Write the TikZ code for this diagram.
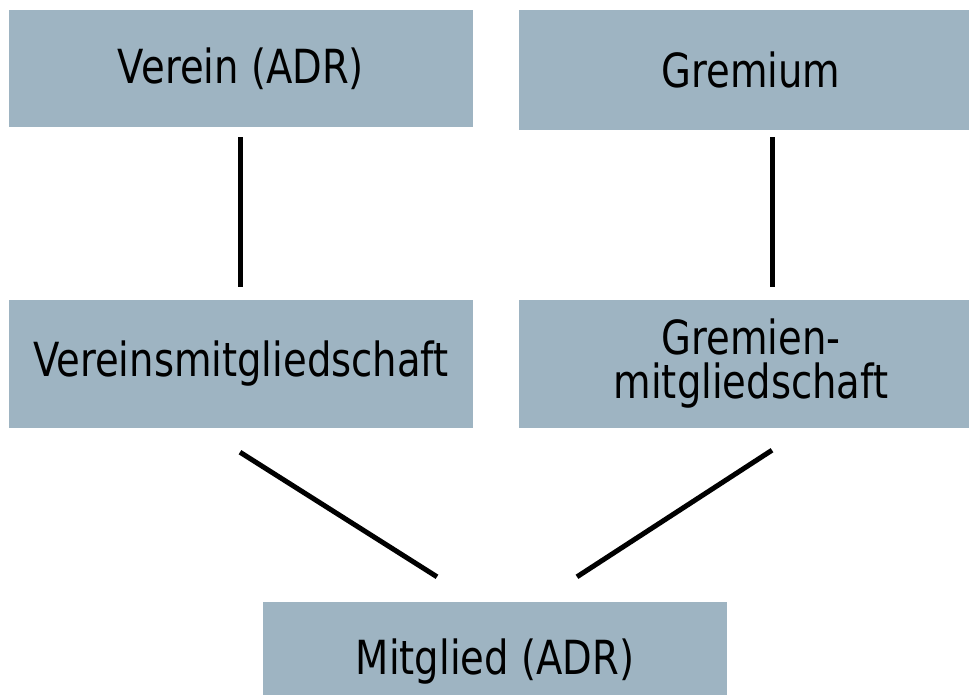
\documentclass[tikz,border=0pt]{standalone}
\usepackage{fontspec}
\setmainfont{DejaVu Sans}[FakeStretch=0.82]
\definecolor{boxfill}{RGB}{158,180,194}
\begin{document}
\begin{tikzpicture}[x=1pt,y=-1pt,
  box/.style={fill=boxfill,draw=none,inner sep=0pt,minimum width=464pt,font=\fontsize{47}{44}\selectfont,align=center},
  conn/.style={line width=5pt,black}]
\useasboundingbox (0,0) rectangle (969,695);
\begin{scope}
\clip (0,0) rectangle (969,695);
\node[box,minimum height=117pt] (verein) at (241,68.5) {Verein (ADR)};
\node[box,minimum height=120pt] (gremium) at (751,70) {Gremium};
\node[box,minimum height=128pt] (vm) at (241,364) {Vereinsmitgliedschaft};
\node[box,minimum height=128pt] (gm) at (751,364) {Gremien-\\mitgliedschaft};
\node[box,minimum height=120pt] (mit) at (495,662) {Mitglied (ADR)};
\end{scope}
\draw[conn] ([xshift=-1pt,yshift=-10pt]verein.south) -- ([xshift=-1pt,yshift=13pt]vm.north);
\draw[conn] ([xshift=21pt,yshift=-7pt]gremium.south) -- ([xshift=21pt,yshift=13pt]gm.north);
\draw[conn] ([xshift=-1pt,yshift=-24pt]vm.south) -- ([xshift=-58pt,yshift=25pt]mit.north);
\draw[conn] ([xshift=21pt,yshift=-22pt]gm.south) -- ([xshift=82pt,yshift=25pt]mit.north);
\end{tikzpicture}
\end{document}
